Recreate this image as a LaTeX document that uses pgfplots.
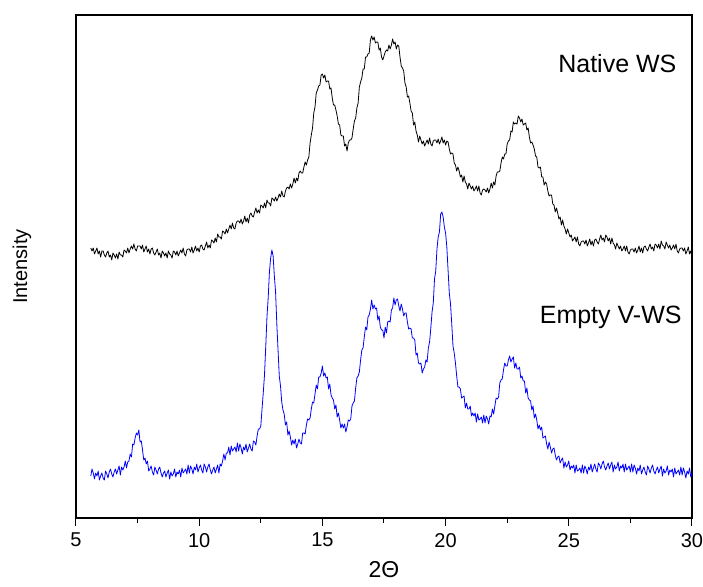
\documentclass[border=0pt]{standalone}
\usepackage{pgfplots}
\pgfplotsset{compat=1.18}
\usepackage{pgfplotstable}
\usepackage{fontspec}
\setmainfont{Liberation Sans}

\pgfplotstableread{
x y
5.60 270
5.65 267
5.70 270
5.75 264
5.80 267
5.85 270
5.90 264
5.95 267
6.00 261
6.05 267
6.10 267
6.15 263
6.20 261
6.25 265
6.30 267
6.35 261
6.40 263
6.45 258
6.50 265
6.55 263
6.60 260
6.65 264
6.70 259
6.75 266
6.80 263
6.85 263
6.90 261
6.95 268
7.00 267
7.05 265
7.10 270
7.15 265
7.20 269
7.25 272
7.30 269
7.35 274
7.40 269
7.45 267
7.50 272
7.55 272
7.60 272
7.65 269
7.70 273
7.75 266
7.80 269
7.85 272
7.90 266
7.95 269
8.00 264
8.05 269
8.10 270
8.15 265
8.20 263
8.25 266
8.30 269
8.35 263
8.40 265
8.45 260
8.50 267
8.55 265
8.60 262
8.65 265
8.70 260
8.75 267
8.80 264
8.85 263
8.90 260
8.95 267
9.00 266
9.05 263
9.10 267
9.15 262
9.20 265
9.25 268
9.30 265
9.35 270
9.40 264
9.45 262
9.50 268
9.55 269
9.60 269
9.65 266
9.70 271
9.75 265
9.80 268
9.85 272
9.90 267
9.95 270
10.00 266
10.05 272
10.10 273
10.15 269
10.20 268
10.25 272
10.30 276
10.35 270
10.40 273
10.45 270
10.50 278
10.55 277
10.60 275
10.65 280
10.70 276
10.75 284
10.80 281
10.85 281
10.90 279
10.95 287
11.00 286
11.05 284
11.10 289
11.15 285
11.20 289
11.25 293
11.30 289
11.35 295
11.40 290
11.45 289
11.50 295
11.55 297
11.60 297
11.65 295
11.70 299
11.75 294
11.80 297
11.85 302
11.90 296
11.95 300
12.00 295
12.05 303
12.10 305
12.15 302
12.20 301
12.25 306
12.30 310
12.35 305
12.40 308
12.45 305
12.50 313
12.55 312
12.60 310
12.65 315
12.70 310
12.75 318
12.80 315
12.85 315
12.90 312
12.95 320
13.00 319
13.05 317
13.10 321
13.15 317
13.20 320
13.25 324
13.30 321
13.35 327
13.40 322
13.45 321
13.50 327
13.55 330
13.60 331
13.65 329
13.70 334
13.75 330
13.80 334
13.85 340
13.90 335
13.95 340
14.00 337
14.05 345
14.10 347
14.15 345
14.20 345
14.25 351
14.30 356
14.35 353
14.40 358
14.45 361
14.50 375
14.55 383
14.60 390
14.65 405
14.70 411
14.75 425
14.80 428
14.85 432
14.90 433
14.95 443
15.00 444
15.05 440
15.10 443
15.15 436
15.20 437
15.25 437
15.30 429
15.35 430
15.40 420
15.45 413
15.50 413
15.55 408
15.60 402
15.65 394
15.70 393
15.75 383
15.80 382
15.85 382
15.90 372
15.95 374
16.00 367
16.05 375
16.10 378
16.15 378
16.20 380
16.25 389
16.30 397
16.35 400
16.40 410
16.45 415
16.50 431
16.55 436
16.60 440
16.65 449
16.70 449
16.75 461
16.80 461
16.85 464
16.90 465
16.95 478
17.00 482
17.05 478
17.10 481
17.15 475
17.20 476
17.25 476
17.30 468
17.35 470
17.40 461
17.45 458
17.50 462
17.55 466
17.60 468
17.65 467
17.70 473
17.75 469
17.80 473
17.85 479
17.90 474
17.95 476
18.00 469
18.05 473
18.10 472
18.15 461
18.20 452
18.25 450
18.30 447
18.35 435
18.40 431
18.45 421
18.50 422
18.55 415
18.60 407
18.65 405
18.70 393
18.75 396
18.80 387
18.85 383
18.90 376
18.95 382
19.00 378
19.05 374
19.10 377
19.15 372
19.20 375
19.25 378
19.30 374
19.35 380
19.40 374
19.45 372
19.50 377
19.55 378
19.60 378
19.65 375
19.70 379
19.75 374
19.80 377
19.85 381
19.90 375
19.95 378
20.00 373
20.05 377
20.10 376
20.15 369
20.20 364
20.25 365
20.30 364
20.35 355
20.40 353
20.45 347
20.50 351
20.55 347
20.60 341
20.65 343
20.70 336
20.75 342
20.80 336
20.85 334
20.90 329
20.95 335
21.00 332
21.05 329
21.10 332
21.15 327
21.20 329
21.25 332
21.30 327
21.35 332
21.40 325
21.45 323
21.50 328
21.55 329
21.60 328
21.65 326
21.70 330
21.75 325
21.80 329
21.85 335
21.90 330
21.95 336
22.00 333
22.05 342
22.10 346
22.15 346
22.20 347
22.25 355
22.30 361
22.35 359
22.40 364
22.45 364
22.50 374
22.55 377
22.60 378
22.65 387
22.70 386
22.75 396
22.80 394
22.85 395
22.90 394
22.95 402
23.00 400
23.05 396
23.10 399
23.15 393
23.20 394
23.25 395
23.30 388
23.35 390
23.40 381
23.45 375
23.50 376
23.55 373
23.60 369
23.65 362
23.70 361
23.75 351
23.80 350
23.85 351
23.90 341
23.95 341
24.00 333
24.05 336
24.10 334
24.15 327
24.20 322
24.25 323
24.30 323
24.35 314
24.40 313
24.45 306
24.50 310
24.55 305
24.60 299
24.65 301
24.70 293
24.75 298
24.80 292
24.85 289
24.90 284
24.95 289
25.00 285
25.05 281
25.10 283
25.15 277
25.20 279
25.25 281
25.30 276
25.35 281
25.40 274
25.45 272
25.50 276
25.55 277
25.60 277
25.65 274
25.70 278
25.75 272
25.80 275
25.85 279
25.90 273
25.95 277
26.00 272
26.05 278
26.10 279
26.15 276
26.20 274
26.25 279
26.30 283
26.35 278
26.40 280
26.45 276
26.50 283
26.55 281
26.60 277
26.65 280
26.70 274
26.75 280
26.80 275
26.85 273
26.90 269
26.95 275
27.00 272
27.05 269
27.10 272
27.15 267
27.20 269
27.25 272
27.30 267
27.35 272
27.40 266
27.45 264
27.50 268
27.55 269
27.60 269
27.65 266
27.70 270
27.75 265
27.80 268
27.85 272
27.90 266
27.95 270
28.00 265
28.05 271
28.10 272
28.15 269
28.20 267
28.25 271
28.30 274
28.35 269
28.40 271
28.45 267
28.50 274
28.55 273
28.60 270
28.65 274
28.70 269
28.75 277
28.80 273
28.85 272
28.90 269
28.95 276
29.00 273
29.05 270
29.10 273
29.15 268
29.20 270
29.25 273
29.30 269
29.35 274
29.40 267
29.45 265
29.50 269
29.55 270
29.60 270
29.65 267
29.70 270
29.75 264
29.80 267
29.85 271
29.90 264
29.95 267
30.00 262
}\nativews

\pgfplotstableread{
x y
5.60 42
5.65 49
5.70 45
5.75 39
5.80 45
5.85 42
5.90 47
5.95 38
6.00 42
6.05 45
6.10 40
6.15 38
6.20 47
6.25 44
6.30 40
6.35 46
6.40 49
6.45 44
6.50 41
6.55 46
6.60 49
6.65 44
6.70 48
6.75 52
6.80 43
6.85 51
6.90 48
6.95 51
7.00 57
7.05 50
7.10 56
7.15 57
7.20 64
7.25 61
7.30 74
7.35 73
7.40 80
7.45 85
7.50 83
7.55 88
7.60 76
7.65 77
7.70 68
7.75 58
7.80 60
7.85 54
7.90 57
7.95 47
8.00 49
8.05 52
8.10 46
8.15 43
8.20 51
8.25 48
8.30 44
8.35 49
8.40 51
8.45 45
8.50 41
8.55 45
8.60 47
8.65 41
8.70 45
8.75 48
8.80 39
8.85 46
8.90 42
8.95 44
9.00 49
9.05 41
9.10 46
9.15 44
9.20 48
9.25 41
9.30 50
9.35 45
9.40 47
9.45 49
9.50 44
9.55 53
9.60 45
9.65 52
9.70 49
9.75 44
9.80 51
9.85 48
9.90 54
9.95 46
10.00 50
10.05 53
10.10 48
10.15 45
10.20 54
10.25 51
10.30 46
10.35 51
10.40 54
10.45 48
10.50 44
10.55 48
10.60 51
10.65 45
10.70 49
10.75 53
10.80 45
10.85 54
10.90 52
10.95 57
11.00 64
11.05 58
11.10 65
11.15 65
11.20 71
11.25 63
11.30 72
11.35 67
11.40 69
11.45 71
11.50 66
11.55 75
11.60 67
11.65 74
11.70 70
11.75 64
11.80 71
11.85 68
11.90 74
11.95 66
12.00 70
12.05 74
12.10 69
12.15 67
12.20 77
12.25 76
12.30 73
12.35 82
12.40 89
12.45 89
12.50 92
12.55 109
12.60 125
12.65 143
12.70 171
12.75 201
12.80 220
12.85 246
12.90 260
12.95 268
13.00 262
13.05 242
13.10 226
13.15 194
13.20 168
13.25 142
13.30 132
13.35 116
13.40 108
13.45 104
13.50 93
13.55 96
13.60 83
13.65 87
13.70 81
13.75 73
13.80 78
13.85 74
13.90 79
13.95 70
14.00 74
14.05 79
14.10 75
14.15 74
14.20 85
14.25 85
14.30 84
14.35 93
14.40 99
14.45 98
14.50 100
14.55 109
14.60 116
14.65 115
14.70 124
14.75 133
14.80 129
14.85 141
14.90 141
14.95 145
15.00 152
15.05 142
15.10 145
15.15 140
15.20 141
15.25 129
15.30 134
15.35 123
15.40 120
15.45 118
15.50 109
15.55 113
15.60 101
15.65 105
15.70 98
15.75 90
15.80 94
15.85 90
15.90 94
15.95 86
16.00 91
16.05 98
16.10 97
16.15 99
16.20 112
16.25 115
16.30 117
16.35 130
16.40 140
16.45 142
16.50 146
16.55 158
16.60 168
16.65 170
16.70 181
16.75 191
16.80 188
16.85 201
16.90 203
16.95 209
17.00 218
17.05 209
17.10 213
17.15 209
17.20 210
17.25 198
17.30 202
17.35 191
17.40 188
17.45 188
17.50 180
17.55 191
17.60 185
17.65 196
17.70 197
17.75 196
17.80 208
17.85 210
17.90 220
17.95 213
18.00 218
18.05 219
18.10 212
18.15 207
18.20 214
18.25 209
18.30 202
18.35 205
18.40 205
18.45 196
18.50 189
18.55 190
18.60 189
18.65 180
18.70 180
18.75 178
18.80 163
18.85 165
18.90 155
18.95 154
19.00 155
19.05 145
19.10 149
19.15 151
19.20 158
19.25 156
19.30 170
19.35 176
19.40 190
19.45 206
19.50 215
19.55 239
19.60 247
19.65 269
19.70 281
19.75 286
19.80 304
19.85 306
19.90 301
19.95 291
20.00 285
20.05 271
20.10 248
20.15 225
20.20 214
20.25 194
20.30 172
20.35 165
20.40 155
20.45 142
20.50 131
20.55 131
20.60 129
20.65 120
20.70 121
20.75 122
20.80 110
20.85 115
20.90 109
20.95 109
21.00 112
21.05 102
21.10 105
21.15 102
21.20 105
21.25 96
21.30 104
21.35 98
21.40 99
21.45 101
21.50 95
21.55 103
21.60 95
21.65 102
21.70 99
21.75 94
21.80 102
21.85 101
21.90 109
21.95 104
22.00 112
22.05 120
22.10 119
22.15 121
22.20 135
22.25 138
22.30 139
22.35 148
22.40 155
22.45 152
22.50 152
22.55 158
22.60 162
22.65 156
22.70 159
22.75 161
22.80 150
22.85 155
22.90 149
22.95 149
23.00 151
23.05 140
23.10 142
23.15 137
23.20 137
23.25 125
23.30 130
23.35 120
23.40 118
23.45 117
23.50 108
23.55 112
23.60 100
23.65 104
23.70 98
23.75 89
23.80 93
23.85 88
23.90 91
23.95 80
24.00 81
24.05 82
24.10 74
24.15 69
24.20 76
24.25 71
24.30 65
24.35 69
24.40 70
24.45 63
24.50 58
24.55 61
24.60 62
24.65 55
24.70 58
24.75 60
24.80 50
24.85 56
24.90 51
24.95 53
25.00 57
25.05 48
25.10 52
25.15 50
25.20 53
25.25 45
25.30 53
25.35 47
25.40 48
25.45 50
25.50 45
25.55 53
25.60 45
25.65 52
25.70 49
25.75 44
25.80 51
25.85 48
25.90 54
25.95 46
26.00 50
26.05 54
26.10 49
26.15 46
26.20 55
26.25 53
26.30 49
26.35 54
26.40 57
26.45 51
26.50 48
26.55 52
26.60 55
26.65 49
26.70 53
26.75 56
26.80 46
26.85 53
26.90 49
26.95 51
27.00 56
27.05 47
27.10 52
27.15 50
27.20 54
27.25 46
27.30 54
27.35 48
27.40 50
27.45 52
27.50 46
27.55 54
27.60 46
27.65 53
27.70 50
27.75 44
27.80 50
27.85 47
27.90 53
27.95 44
28.00 48
28.05 51
28.10 46
28.15 43
28.20 52
28.25 49
28.30 45
28.35 50
28.40 53
28.45 47
28.50 44
28.55 48
28.60 51
28.65 45
28.70 49
28.75 52
28.80 42
28.85 49
28.90 45
28.95 47
29.00 52
29.05 43
29.10 48
29.15 46
29.20 49
29.25 41
29.30 50
29.35 44
29.40 46
29.45 48
29.50 43
29.55 51
29.60 43
29.65 50
29.70 46
29.75 40
29.80 47
29.85 44
29.90 50
29.95 41
30.00 45
}\emptyvws

\begin{document}
\begin{tikzpicture}
\path[use as bounding box] (-38pt,-34pt) rectangle (313.5pt,259pt);
\begin{axis}[
  at={(0,0)}, anchor=south west,
  scale only axis, width=308pt, height=251.5pt,
  xmin=5, xmax=30, ymin=0, ymax=503,
  xtick={5,10,15,20,25,30},
  minor xtick={7.5,12.5,17.5,22.5,27.5},
  ytick=\empty,
  xtick pos=bottom, tick align=outside,
  major tick length=4pt, minor tick length=2.5pt,
  tick style={black, line width=0.5pt},
  axis line style={line width=0.6pt},
  ticklabel style={font=\fontsize{10}{12}\selectfont},
  /pgf/number format/assume math mode=true,
  xlabel={2Θ}, ylabel={Intensity},
  xlabel style={font=\fontsize{11.5}{13}\selectfont, at={(axis description cs:0.5,-0.1034)}, anchor=center},
  ylabel style={font=\fontsize{10}{12}\selectfont, at={(axis description cs:-0.0877,0.5)}, anchor=center},
  clip=false,
]
\addplot[black, line width=0.4pt, line join=round] table[x=x, y=y] {\nativews};
\addplot[blue, line width=0.4pt, line join=round] table[x=x, y=y] {\emptyvws};
\node[font=\fontsize{12.5}{15}\selectfont] at (axis cs:26.97,454) {Native WS};
\node[font=\fontsize{12.5}{15}\selectfont] at (axis cs:26.7,201) {Empty V-WS};
\end{axis}
\end{tikzpicture}
\end{document}
